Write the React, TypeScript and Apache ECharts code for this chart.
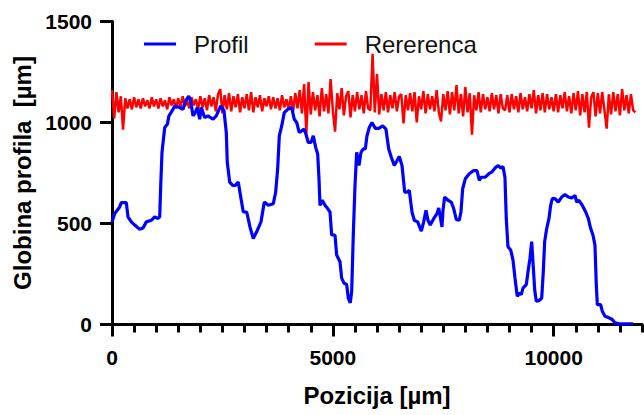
import React, { useEffect, useRef } from "react";
import * as echarts from "echarts";

// Blue profile: [position µm, depth µm]
const profil: [number, number][] = [
  [0, 508], [61, 549], [174, 582], [211, 603], [324, 603], [362, 533], [437, 508], [514, 492],
  [627, 472], [702, 478], [777, 508], [890, 516], [967, 533], [1041, 525], [1080, 533], [1103, 688],
  [1132, 852], [1193, 975], [1252, 991], [1290, 1033], [1381, 1065], [1420, 1082], [1533, 1074],
  [1607, 1065], [1660, 1106], [1737, 1131], [1782, 1106], [1834, 1033], [1886, 1049], [1931, 1074],
  [1986, 1016], [2022, 1074], [2099, 1024], [2173, 1033], [2287, 1016], [2361, 1033], [2461, 1082],
  [2536, 1057], [2588, 950], [2610, 803], [2665, 705], [2739, 688], [2785, 688], [2859, 705],
  [2921, 623], [2973, 557], [3050, 557], [3124, 483], [3199, 426], [3276, 459], [3373, 508],
  [3448, 606], [3539, 590], [3652, 598], [3706, 655], [3751, 770], [3788, 934], [3842, 983],
  [3901, 1049], [3978, 1065], [4068, 1074], [4127, 1016], [4182, 1000], [4241, 950], [4295, 959],
  [4347, 967], [4392, 942], [4444, 901], [4505, 901], [4557, 934], [4612, 877], [4657, 844],
  [4687, 721], [4709, 590], [4761, 615], [4822, 590], [4883, 574], [4936, 557], [4974, 443],
  [5049, 443], [5087, 344], [5162, 311], [5200, 230], [5252, 205], [5314, 197], [5350, 131],
  [5395, 107], [5427, 164], [5463, 443], [5502, 688], [5540, 852], [5592, 787], [5637, 852],
  [5689, 869], [5735, 869], [5773, 934], [5825, 975], [5886, 1000], [5961, 971], [6038, 971],
  [6129, 983], [6203, 967], [6265, 869], [6324, 828], [6391, 787], [6452, 811], [6504, 832],
  [6566, 787], [6627, 655], [6679, 655], [6731, 664], [6792, 557], [6844, 516], [6921, 508],
  [7003, 462], [7057, 508], [7109, 565], [7154, 516], [7206, 492], [7283, 524], [7358, 549],
  [7397, 577], [7433, 533], [7471, 483], [7494, 565], [7532, 631], [7607, 615], [7682, 606],
  [7736, 574], [7795, 520], [7863, 516], [7901, 557], [7940, 672], [7999, 721], [8089, 746],
  [8189, 762], [8264, 762], [8316, 713], [8354, 729], [8452, 729], [8529, 746], [8610, 757],
  [8687, 778], [8746, 787], [8807, 774], [8852, 782], [8897, 729], [8927, 525], [8965, 385],
  [9026, 369], [9079, 320], [9124, 230], [9176, 139], [9230, 156], [9267, 148], [9305, 180],
  [9380, 197], [9425, 270], [9464, 328], [9502, 410], [9531, 311], [9570, 172], [9606, 115],
  [9667, 118], [9729, 131], [9765, 262], [9796, 410], [9842, 475], [9894, 525], [9932, 590],
  [9969, 623], [10030, 623], [10104, 606], [10181, 631], [10256, 643], [10331, 631], [10408, 626],
  [10483, 639], [10521, 606], [10573, 615], [10648, 590], [10725, 557], [10784, 525], [10838, 475],
  [10890, 443], [10935, 393], [10965, 197], [10988, 98], [11064, 98], [11101, 66], [11162, 41],
  [11252, 33], [11327, 25], [11388, 8], [11479, 3], [11796, 3],
];

// Red reference: sampled every 50 µm from 0
const referenceStep = 50;
const reference: number[] = [
  1160, 1020, 1150, 1050, 1130, 965, 1120, 1070, 1115, 1065,
  1125, 1075, 1115, 1070, 1120, 1080, 1110, 1070, 1125, 1080,
  1115, 1070, 1120, 1080, 1110, 1065, 1125, 1085, 1115, 1070,
  1120, 1075, 1130, 1080, 1110, 1070, 1125, 1085, 1115, 1065,
  1130, 1075, 1120, 1060, 1135, 1080, 1125, 1055, 1140, 1165,
  1045, 1135, 1065, 1145, 1055, 1130, 1075, 1140, 1050, 1125,
  1070, 1140, 1060, 1150, 1050, 1125, 1075, 1135, 1055, 1120,
  1080, 1130, 1065, 1125, 1070, 1120, 1060, 1135, 1075, 1115,
  1065, 1130, 1055, 1145, 1070, 1160, 1045, 1190, 945, 1200,
  1040, 1150, 1060, 1135, 1030, 1170, 1055, 1140, 1045, 1215,
  1060, 955, 1145, 1065, 1170, 1035, 1130, 1155, 1025, 1135,
  1055, 1150, 1065, 1135, 1045, 1155, 1070, 1060, 1340, 1050,
  1240, 1040, 1140, 1060, 1150, 1050, 1135, 1070, 1150, 1055,
  1130, 1140, 995, 1135, 1060, 1145, 1055, 1150, 1000, 1130,
  1065, 1155, 1045, 1140, 1065, 1130, 1055, 1160, 1050, 1005,
  1140, 1060, 1155, 1040, 1150, 1060, 1185, 1045, 1140, 1030,
  1175, 1050, 1145, 940, 1135, 1060, 1150, 1050, 1140, 1065,
  1125, 1055, 1145, 1065, 1135, 1045, 1140, 1070, 1060, 1135,
  1050, 1140, 1065, 1130, 1050, 1145, 1065, 1125, 1055, 1140,
  1070, 1160, 1045, 1135, 1060, 1145, 1050, 1140, 1065, 1125,
  1055, 1140, 1050, 1135, 1070, 1150, 1055, 1130, 1045, 1145,
  1060, 1155, 1035, 1140, 1050, 1150, 975, 1125, 1150, 1030,
  1145, 1045, 1150, 1060, 970, 1140, 1040, 1150, 1055, 1140,
  1035, 1165, 1060, 1135, 1045, 1140, 1060, 1050,
];

const xLabelValues = [0, 5000, 10000];
const yTicks = [0, 500, 1000, 1500];

const FONT = "'Liberation Sans', Arial, Helvetica, sans-serif";

export default function App() {
  const ref = useRef<HTMLDivElement>(null);

  useEffect(() => {
    if (!ref.current) return;
    const chart = echarts.init(ref.current, undefined, { renderer: "svg" });
    const refData = reference.map((v, i) => [i * referenceStep, v]);
    const plain = (v: number) => String(v);
    chart.setOption({
      animation: false,
      backgroundColor: "#ffffff",
      textStyle: { fontFamily: FONT },
      grid: { left: 112, right: 2, top: 21.5, bottom: 90.5, containLabel: false },
      legend: {
        data: ["Profil", "Rererenca"],
        left: 139,
        top: 27,
        icon: "rect",
        itemWidth: 32,
        itemHeight: 3,
        itemGap: 66,
        textStyle: { fontFamily: FONT, fontSize: 24, color: "#111", padding: [0, 0, 0, 13] },
      },
      xAxis: [
        {
          type: "value",
          min: 0,
          max: 12000,
          interval: 500,
          position: "bottom",
          name: "Pozicija [µm]",
          nameLocation: "middle",
          nameGap: 59,
          nameTextStyle: { fontFamily: FONT, fontSize: 24, fontWeight: "bold", color: "#000" },
          axisLine: { show: true, lineStyle: { color: "#000", width: 3 } },
          axisTick: { show: true, length: 8, lineStyle: { color: "#000", width: 3 } },
          axisLabel: {
            customValues: xLabelValues,
            formatter: plain,
            margin: 22,
            fontFamily: FONT,
            fontSize: 21,
            fontWeight: "bold",
            color: "#000",
          },
          splitLine: { show: false },
        },
        {
          type: "value",
          min: 0,
          max: 12000,
          position: "bottom",
          axisLine: { show: false },
          axisTick: {
            show: true,
            customValues: xLabelValues,
            length: 12,
            lineStyle: { color: "#000", width: 3 },
          },
          axisLabel: { show: false },
          splitLine: { show: false },
        },
      ],
      yAxis: {
        type: "value",
        min: 0,
        max: 1500,
        interval: 500,
        name: "Globina profila  [µm]",
        nameLocation: "middle",
        nameGap: 75,
        nameTextStyle: { fontFamily: FONT, fontSize: 24, fontWeight: "bold", color: "#000" },
        axisLine: { show: true, lineStyle: { color: "#000", width: 3 } },
        axisTick: { show: true, length: 12, customValues: yTicks, lineStyle: { color: "#000", width: 3 } },
        axisLabel: { margin: 20, formatter: plain, fontFamily: FONT, fontSize: 21, fontWeight: "bold", color: "#000" },
        splitLine: { show: false },
      },
      series: [
        {
          name: "Profil",
          type: "line",
          xAxisIndex: 0,
          data: profil,
          showSymbol: false,
          symbol: "none",
          color: "#0000ff",
          lineStyle: { color: "#0000ff", width: 3.2 },
          z: 3,
        },
        {
          name: "Rererenca",
          type: "line",
          xAxisIndex: 0,
          data: refData,
          showSymbol: false,
          symbol: "none",
          color: "#ff0000",
          lineStyle: { color: "#ff0000", width: 2.5 },
          z: 2,
        },
      ],
    });
    return () => chart.dispose();
  }, []);

  return <div ref={ref} style={{ width: 644, height: 415, position: "absolute", left: 0, top: 0 }} />;
}
